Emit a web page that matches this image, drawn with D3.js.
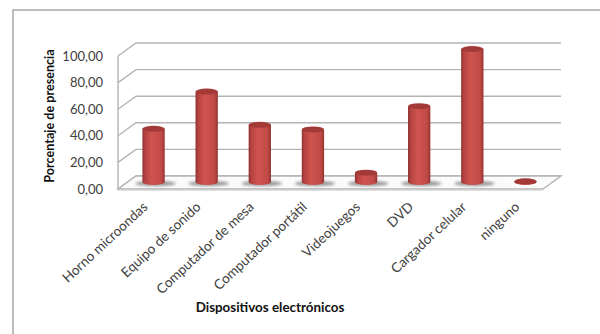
<!DOCTYPE html>
<html>
<head>
<meta charset="utf-8">
<script src="https://cdn.jsdelivr.net/npm/d3@7"></script>
<style>
html,body{margin:0;padding:0;background:#fff}
text{font-family:Lato,"Open Sans",sans-serif}
</style>
</head>
<body>
<svg id="chart" width="600" height="334"></svg>
<script>
const categories = ["Horno microondas","Equipo de sonido","Computador de mesa","Computador portátil","Videojuegos","DVD","Cargador celular","ninguno"];
const values = [40,68,43,39.5,7,57,100,0.5];
const tickValues = [0,20,40,60,80,100];
const yTitle = "Porcentaje de presencia";
const xTitle = "Dispositivos electrónicos";

const svg = d3.select("#chart");
const depth = {dx:18, dy:-13};
const front = {left:118, right:543, bottom:189, top:56};

const x = d3.scaleBand().domain(categories).range([front.left + 9, front.right + 9]).paddingInner(0.58).paddingOuter(0.29);
const y = d3.scaleLinear().domain([0,100]).range([front.bottom, front.top]);
const fmt = v => d3.format(".2f")(v).replace(".", ",");

const defs = svg.append("defs");
const grad = defs.append("linearGradient").attr("id","cyl");
[[0,"#8f302e"],[0.12,"#b54341"],[0.42,"#d0544f"],[0.85,"#c04a47"],[1,"#943330"]]
  .forEach(([o,c]) => grad.append("stop").attr("offset",o).attr("stop-color",c));
defs.append("filter").attr("id","soft").attr("x","-30%").attr("width","160%").attr("y","-100%").attr("height","300%")
  .append("feGaussianBlur").attr("stdDeviation",1.8);

// Outer chart frame, open on the right and at the bottom
svg.append("path").attr("d","M13,334V10H600").attr("fill","none").attr("stroke","#a8a8a8").attr("stroke-width",1.5);

// Back wall gridlines and side wall diagonals
const wall = svg.append("g").attr("fill","none").attr("stroke","#b4b4b4").attr("stroke-width",1.4);
tickValues.forEach(t => {
  const py = y(t);
  wall.append("path").attr("d",`M${front.left},${py}l${depth.dx},${depth.dy}H${front.right+depth.dx}`);
});
wall.append("line").attr("x1",front.left).attr("x2",front.left).attr("y1",y(100)).attr("y2",y(0));

// Floor slab
svg.append("path")
  .attr("d",`M${front.left},${y(0)}H${front.right}l${depth.dx},${depth.dy}H${front.left+depth.dx}Z`)
  .attr("fill","#fbfbfb").attr("stroke","#b4b4b4").attr("stroke-width",1.4);
svg.append("line").attr("x1",front.left).attr("x2",front.right).attr("y1",y(0)+1.2).attr("y2",y(0)+1.2)
  .attr("stroke","#d4d4d4");

// Value axis labels
const yLabels = svg.append("g").attr("text-anchor","end").attr("fill","#404040").attr("font-size",13);
yLabels.selectAll("text").data(tickValues).join("text")
  .attr("x",103).attr("y",d => y(d)+4.5).text(fmt);

// Cylinders sit halfway into the floor depth
const base = front.bottom - 7;
const unit = (y(0) - y(100)) / 100;
const rx = () => x.bandwidth() / 2;
const ry = 3;

const bars = svg.append("g").selectAll("g").data(categories).join("g")
  .attr("transform", c => `translate(${x(c)+rx()},0)`);

bars.append("ellipse").attr("cx",2).attr("cy",base+1.5).attr("rx",d => rx()+9).attr("ry",2.6)
  .attr("fill","#6e6e6e").attr("opacity",(c,i) => values[i] < 1 ? 0 : 0.75).attr("filter","url(#soft)");

bars.append("path")
  .attr("d",(c,i) => {
    const top = base - values[i]*unit, r = rx();
    return `M${-r},${top}V${base}A${r},${ry} 0 0 0 ${r},${base}V${top}Z`;
  })
  .attr("fill","url(#cyl)");

bars.append("ellipse")
  .attr("cy",(c,i) => base - values[i]*unit).attr("rx",rx()).attr("ry",ry)
  .attr("fill","#a33a37");

// Rotated category labels
svg.append("g").attr("fill","#404040").attr("font-size",13.6).attr("text-anchor","end")
  .selectAll("text").data(categories).join("text")
  .attr("transform",c => `translate(${x(c)+rx()-5},208) rotate(-43)`)
  .text(c => c);

// Axis titles
svg.append("text").attr("transform","translate(54,116) rotate(-90)").attr("text-anchor","middle")
  .attr("font-size",12.6).attr("font-weight",700).attr("fill","#111").text(yTitle);
svg.append("text").attr("x",270).attr("y",312).attr("text-anchor","middle")
  .attr("font-size",13.4).attr("font-weight",700).attr("fill","#111").text(xTitle);
</script>
</body>
</html>
